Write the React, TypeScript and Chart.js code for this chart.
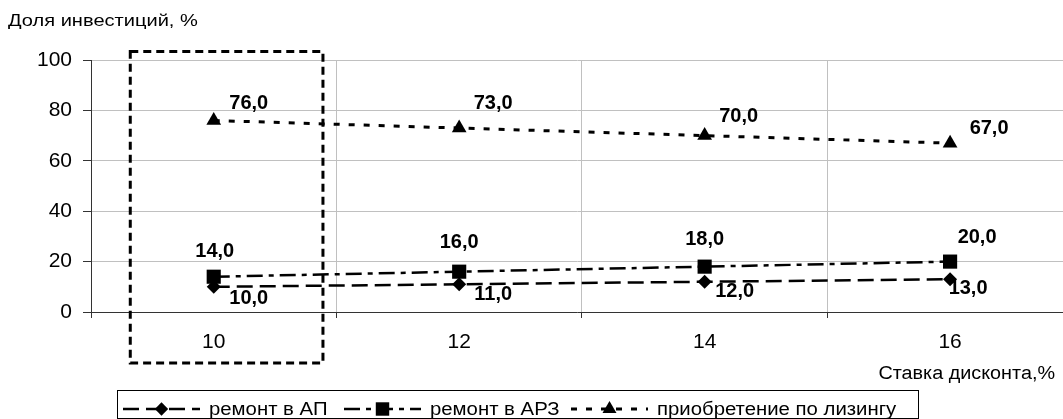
import React, { useEffect, useRef } from 'react';
import { Chart, registerables } from 'chart.js';

Chart.register(...registerables);

const FONT = '"Liberation Sans", Arial, sans-serif';

// ---- Data ----
const categories = [10, 12, 14, 16];
const remontAP = [10, 11, 12, 13];
const remontARZ = [14, 16, 18, 20];
const leasing = [76, 73, 70, 67];
const seriesNames = ['ремонт в АП', 'ремонт в АРЗ', 'приобретение по лизингу'];
const yTickValues = [0, 20, 40, 60, 80, 100];
const yAxisTitle = 'Доля инвестиций, %';
const xAxisTitle = 'Ставка дисконта,%';

const formatValue = (v: number) => v.toFixed(1).replace('.', ',');

// ---- Styles ----
const seriesStyles = [
  { dash: [16, 7], width: 2.5, point: 'rectRot', radius: 7 },
  { dash: [16, 6, 5, 6], width: 2.5, point: 'rect', radius: 10 },
  { dash: [6, 9], width: 3, point: 'triangle', radius: 8.5 },
];
// label offsets (px) relative to each point
const labelOffsets = [
  [[35, 12], [34, 10], [30, 10], [18, 9]],
  [[1, -25], [0, -29], [0, -27], [27, -24]],
  [[35, -17], [34, -25], [34, -19], [39, -15]],
];
const X_VIEW = { min: 9, max: 16.92 };
const HIGHLIGHT = { xFrom: 9.32, xTo: 10.89, yFrom: -20.2, yTo: 103.4 };
const LEGEND_ENTRY_X = [123, 344, 571];

function stretchText(ctx: CanvasRenderingContext2D, text: string, x: number, y: number, align: CanvasTextAlign, sx: number) {
  ctx.save();
  ctx.translate(x, y);
  ctx.scale(sx, 1);
  ctx.textAlign = align;
  ctx.fillText(text, 0, 0);
  ctx.restore();
}

function drawMarker(ctx: CanvasRenderingContext2D, style: string, x: number, y: number, r: number) {
  ctx.beginPath();
  if (style === 'rectRot') {
    ctx.moveTo(x, y - r);
    ctx.lineTo(x + r, y);
    ctx.lineTo(x, y + r);
    ctx.lineTo(x - r, y);
  } else if (style === 'rect') {
    const s = r * Math.SQRT1_2;
    ctx.rect(x - s, y - s, 2 * s, 2 * s);
  } else {
    ctx.moveTo(x, y - r);
    ctx.lineTo(x + r * 0.866, y + r * 0.5);
    ctx.lineTo(x - r * 0.866, y + r * 0.5);
  }
  ctx.closePath();
  ctx.fill();
}

const valueLabelsPlugin = {
  id: 'valueLabels',
  afterDatasetsDraw(chart: any) {
    const ctx: CanvasRenderingContext2D = chart.ctx;
    ctx.save();
    ctx.font = `bold 20px ${FONT}`;
    ctx.fillStyle = '#000';
    ctx.textAlign = 'center';
    ctx.textBaseline = 'middle';
    chart.data.datasets.forEach((ds: any, di: number) => {
      const meta = chart.getDatasetMeta(di);
      meta.data.forEach((el: any, i: number) => {
        const [dx, dy] = labelOffsets[di][i];
        ctx.fillText(formatValue(ds.data[i].y), el.x + dx, el.y + dy);
      });
    });
    ctx.restore();
  },
};

const decorPlugin = {
  id: 'decor',
  afterDraw(chart: any) {
    const ctx: CanvasRenderingContext2D = chart.ctx;
    const xs = chart.scales.x;
    const ys = chart.scales.y;
    ctx.save();

    // highlight dashed rectangle around first category
    const l = xs.getPixelForValue(HIGHLIGHT.xFrom);
    const r = xs.getPixelForValue(HIGHLIGHT.xTo);
    const t = ys.getPixelForValue(HIGHLIGHT.yTo);
    const b = ys.getPixelForValue(HIGHLIGHT.yFrom);
    ctx.strokeStyle = '#000';
    ctx.lineWidth = 3;
    ctx.setLineDash([8, 5]);
    ctx.strokeRect(l, t, r - l, b - t);
    ctx.setLineDash([]);

    // axis titles
    ctx.fillStyle = '#000';
    ctx.textBaseline = 'alphabetic';
    ctx.font = `17px ${FONT}`;
    stretchText(ctx, yAxisTitle, 8, 26, 'left', 1.18);
    ctx.font = `18px ${FONT}`;
    stretchText(ctx, xAxisTitle, 1055, 379, 'right', 1.1);

    // legend
    const LEG = { left: 117, top: 390, right: 918, bottom: 418, y: 409, sampleW: 77, textGap: 9 };
    ctx.lineWidth = 1;
    ctx.strokeStyle = '#000';
    ctx.strokeRect(LEG.left + 0.5, LEG.top + 0.5, LEG.right - LEG.left, LEG.bottom - LEG.top);
    ctx.font = `18px ${FONT}`;
    seriesNames.forEach((name, i) => {
      const x = LEGEND_ENTRY_X[i];
      const st = seriesStyles[i];
      ctx.save();
      ctx.strokeStyle = '#000';
      ctx.lineWidth = st.width;
      ctx.setLineDash(st.dash);
      ctx.beginPath();
      ctx.moveTo(x, LEG.y);
      ctx.lineTo(x + LEG.sampleW, LEG.y);
      ctx.stroke();
      ctx.restore();
      ctx.fillStyle = '#000';
      drawMarker(ctx, st.point, x + LEG.sampleW / 2, LEG.y, st.radius * 0.95);
      const tx = x + LEG.sampleW + LEG.textGap;
      stretchText(ctx, name, tx, 415, 'left', 1.13);
    });

    ctx.restore();
  },
};

export default function App() {
  const canvasRef = useRef<HTMLCanvasElement | null>(null);

  useEffect(() => {
    const canvas = canvasRef.current;
    if (!canvas) return;
    const seriesValues = [remontAP, remontARZ, leasing];
    const xTickValues: number[] = [];
    categories.forEach((c) => {
      xTickValues.push(c - 1, c);
    });
    const isCategory = (v: number) => categories.includes(v);

    const chart = new Chart(canvas, {
      type: 'line',
      data: {
        datasets: seriesValues.map((vals, i) => ({
          label: seriesNames[i],
          data: vals.map((v, j) => ({ x: categories[j], y: v })),
          borderColor: '#000',
          backgroundColor: '#000',
          borderWidth: seriesStyles[i].width,
          borderDash: seriesStyles[i].dash,
          pointStyle: seriesStyles[i].point as any,
          pointRadius: seriesStyles[i].radius,
          pointBackgroundColor: '#000',
          pointBorderColor: '#000',
          pointBorderWidth: 0,
          tension: 0,
          fill: false,
          clip: false as any,
        })),
      },
      options: {
        animation: false,
        responsive: true,
        maintainAspectRatio: false,
        devicePixelRatio: 1,
        layout: { autoPadding: false, padding: { top: 60, right: 0, left: 0, bottom: 0 } },
        plugins: {
          legend: { display: false },
          title: { display: false },
          tooltip: { enabled: false },
        },
        scales: {
          x: {
            type: 'linear',
            min: X_VIEW.min,
            max: X_VIEW.max,
            afterBuildTicks: (s: any) => {
              s.ticks = xTickValues.map((v) => ({ value: v }));
            },
            afterFit: (s: any) => {
              s.height = 107;
              s.paddingRight = 0;
              s.paddingLeft = 0;
            },
            ticks: {
              autoSkip: false,
              maxRotation: 0,
              padding: 12,
              color: '#000',
              font: { family: FONT, size: 21 },
              callback: (v: any) => (isCategory(Number(v)) ? String(v) : ''),
            },
            grid: {
              color: (c: any) => (c.tick && isCategory(c.tick.value) ? 'rgba(0,0,0,0)' : '#c0c0c0'),
              tickColor: (c: any) => (c.tick && isCategory(c.tick.value) ? 'rgba(0,0,0,0)' : '#333'),
              tickLength: 6,
              lineWidth: 1,
            },
            border: { color: '#333', width: 1 },
          },
          y: {
            min: 0,
            max: 100,
            afterBuildTicks: (s: any) => {
              s.ticks = yTickValues.map((v) => ({ value: v }));
            },
            afterFit: (s: any) => {
              s.width = 91;
            },
            ticks: {
              padding: 11,
              color: '#000',
              font: { family: FONT, size: 21 },
            },
            grid: {
              color: '#c0c0c0',
              tickColor: '#333',
              tickLength: 8,
              lineWidth: 1,
            },
            border: { color: '#333', width: 1 },
          },
        },
      } as any,
      plugins: [valueLabelsPlugin, decorPlugin],
    });

    return () => {
      chart.destroy();
    };
  }, []);

  return (
    <div style={{ position: 'fixed', left: 0, top: 0, width: 1063, height: 419, background: '#fff' }}>
      <canvas ref={canvasRef} />
    </div>
  );
}
